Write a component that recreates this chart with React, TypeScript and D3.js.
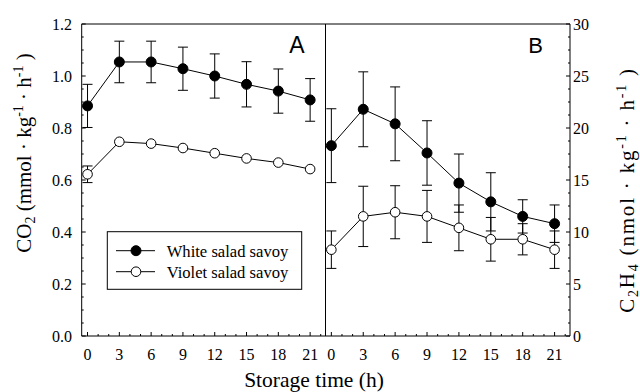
import React from "react";
import * as d3 from "d3";

const times = [0, 3, 6, 9, 12, 15, 18, 21];
const co2White = [0.885, 1.054, 1.054, 1.028, 1.0, 0.968, 0.942, 0.908];
const co2WhiteErr = [0.083, 0.08, 0.08, 0.083, 0.085, 0.087, 0.085, 0.082];
const co2Violet = [0.622, 0.747, 0.74, 0.723, 0.703, 0.683, 0.667, 0.642];
const co2VioletErr = [0.032, 0, 0, 0, 0, 0, 0, 0];
const c2h4White = [18.3, 21.8, 20.4, 17.6, 14.7, 12.9, 11.5, 10.8];
const c2h4WhiteErr = [3.55, 3.6, 3.55, 3.1, 2.8, 2.8, 1.6, 1.8];
const c2h4Violet = [8.3, 11.5, 11.9, 11.5, 10.4, 9.3, 9.3, 8.3];
const c2h4VioletErr = [1.8, 2.9, 2.55, 2.5, 2.2, 2.1, 1.5, 1.8];
const xTicks = [0, 3, 6, 9, 12, 15, 18, 21];
const co2Ticks = [0, 0.2, 0.4, 0.6, 0.8, 1.0, 1.2];
const c2h4Ticks = [0, 5, 10, 15, 20, 25, 30];
const seriesNames = ["White salad savoy", "Violet salad savoy"];

const SERIF = "'Liberation Serif', 'DejaVu Serif', serif";
const SANS = "'Liberation Sans', Arial, sans-serif";

const X0 = 81.7, XM = 325.5, X1 = 570;
const YT = 24, YB = 336;

export default function App() {
  const xA = d3.scaleLinear().domain([-0.55, 22.45]).range([X0, XM]);
  const xB = d3.scaleLinear().domain([-0.55, 22.45]).range([XM, X1]);
  const yA = d3.scaleLinear().domain([0, 1.2]).range([YB, YT]);
  const yB = d3.scaleLinear().domain([0, 30]).range([YB, YT]);

  const panel = (
    x: d3.ScaleLinear<number, number>,
    y: d3.ScaleLinear<number, number>,
    white: number[],
    whiteErr: number[],
    violet: number[],
    violetErr: number[],
    key: string
  ) => {
    const line = d3
      .line<number>()
      .x((_, i) => x(times[i]))
      .y((d) => y(d));
    const errs = (vals: number[], e: number[], k: string) =>
      vals.map((v, i) => {
        if (!e[i]) return null;
        const cx = x(times[i]);
        const t = y(v + e[i]);
        const b = y(v - e[i]);
        return (
          <g key={k + i} stroke="#000" strokeWidth={1}>
            <line x1={cx} x2={cx} y1={t} y2={b} />
            <line x1={cx - 5} x2={cx + 5} y1={t} y2={t} />
            <line x1={cx - 5} x2={cx + 5} y1={b} y2={b} />
          </g>
        );
      });
    return (
      <g key={key}>
        <path d={line(white) || ""} fill="none" stroke="#000" strokeWidth={1} />
        <path d={line(violet) || ""} fill="none" stroke="#000" strokeWidth={1} />
        {errs(white, whiteErr, key + "we")}
        {errs(violet, violetErr, key + "ve")}
        {white.map((v, i) => (
          <circle key={key + "w" + i} cx={x(times[i])} cy={y(v)} r={5} fill="#000" stroke="#000" />
        ))}
        {violet.map((v, i) => (
          <circle key={key + "v" + i} cx={x(times[i])} cy={y(v)} r={4.8} fill="#fff" stroke="#000" strokeWidth={1} />
        ))}
      </g>
    );
  };

  const xMinor = d3.range(0, 23, 1);
  const co2Minor = d3.range(0, 1.2001, 0.05);
  const c2h4Minor = d3.range(0, 30.001, 1.25);

  return (
    <svg width={640} height={392} style={{ position: "absolute", left: 0, top: 0, background: "#fff" }}>
      <rect x={0} y={0} width={640} height={392} fill="#fff" />
      <g stroke="#000" strokeWidth={1} fill="none">
        <line x1={X0} x2={X1} y1={YT} y2={YT} />
        <line x1={X0} x2={X1} y1={YB} y2={YB} />
        <line x1={X0} x2={X0} y1={YT} y2={YB} />
        <line x1={X1} x2={X1} y1={YT} y2={YB} />
        <line x1={XM} x2={XM} y1={YT} y2={YB} />
      </g>
      <g stroke="#000" strokeWidth={1}>
        {[xA, xB].map((sx, k) =>
          xMinor.map((t) => (
            <line key={"xm" + k + t} x1={sx(t)} x2={sx(t)} y1={YB} y2={YB - (t % 3 === 0 ? 4 : 2)} />
          ))
        )}
        {co2Minor.map((v, i) => (
          <line key={"ym" + i} x1={X0} x2={X0 + (i % 4 === 0 ? 4 : 2)} y1={yA(v)} y2={yA(v)} />
        ))}
        {c2h4Minor.map((v, i) => (
          <line key={"yr" + i} x1={X1} x2={X1 - (i % 4 === 0 ? 4 : 2)} y1={yB(v)} y2={yB(v)} />
        ))}
      </g>
      <g fontFamily={SERIF} fontSize={16} fill="#000">
        {xTicks.map((t) => (
          <text key={"xa" + t} x={xA(t)} y={360} textAnchor="middle">{t}</text>
        ))}
        {xTicks.map((t) => (
          <text key={"xb" + t} x={xB(t)} y={360} textAnchor="middle">{t}</text>
        ))}
        {co2Ticks.map((v) => (
          <text key={"la" + v} x={72} y={yA(v) + 5.5} textAnchor="end">{v.toFixed(1)}</text>
        ))}
        {c2h4Ticks.map((v) => (
          <text key={"lb" + v} x={573} y={yB(v) + 5.5} textAnchor="start">{v}</text>
        ))}
      </g>
      {panel(xA, yA, co2White, co2WhiteErr, co2Violet, co2VioletErr, "A")}
      {panel(xB, yB, c2h4White, c2h4WhiteErr, c2h4Violet, c2h4VioletErr, "B")}
      <text x={297} y={53} textAnchor="middle" fontFamily={SANS} fontSize={23}>A</text>
      <text x={535.5} y={53} textAnchor="middle" fontFamily={SANS} fontSize={22}>B</text>
      <rect x={107.3} y={231.7} width={194.4} height={57.6} fill="#fff" stroke="#000" strokeWidth={1} />
      <line x1={116} x2={155} y1={250.7} y2={250.7} stroke="#000" strokeWidth={1} />
      <circle cx={136} cy={250.7} r={5} fill="#000" stroke="#000" />
      <line x1={116} x2={155} y1={271.7} y2={271.7} stroke="#000" strokeWidth={1} />
      <circle cx={136} cy={271.7} r={4.8} fill="#fff" stroke="#000" />
      <g fontFamily={SERIF} fontSize={16.6} fill="#000">
        <text x={166.7} y={256.5}>{seriesNames[0]}</text>
        <text x={166.7} y={277.5}>{seriesNames[1]}</text>
      </g>
      <text x={314} y={387} textAnchor="middle" fontFamily={SERIF} fontSize={21.5}>Storage time (h)</text>
      <text transform="translate(30.5,153) rotate(-90)" textAnchor="middle" fontFamily={SERIF} fontSize={21}>
        CO<tspan fontSize={14} dy={4}>2</tspan>
        <tspan dy={-4}> (mmol · kg</tspan>
        <tspan fontSize={14} dy={-8}>-1</tspan>
        <tspan dy={8}> · h</tspan>
        <tspan fontSize={14} dy={-8}>-1</tspan>
        <tspan dy={8}> )</tspan>
      </text>
      <text transform="translate(634,190) rotate(-90)" textAnchor="middle" fontFamily={SERIF} fontSize={21} letterSpacing={1.8}>
        C<tspan fontSize={14} dy={4}>2</tspan>
        <tspan dy={-4}>H</tspan>
        <tspan fontSize={14} dy={4}>4</tspan>
        <tspan dy={-4}> (nmol · kg</tspan>
        <tspan fontSize={14} dy={-8}>-1</tspan>
        <tspan dy={8}> · h</tspan>
        <tspan fontSize={14} dy={-8}>-1</tspan>
        <tspan dy={8}>  )</tspan>
      </text>
    </svg>
  );
}
